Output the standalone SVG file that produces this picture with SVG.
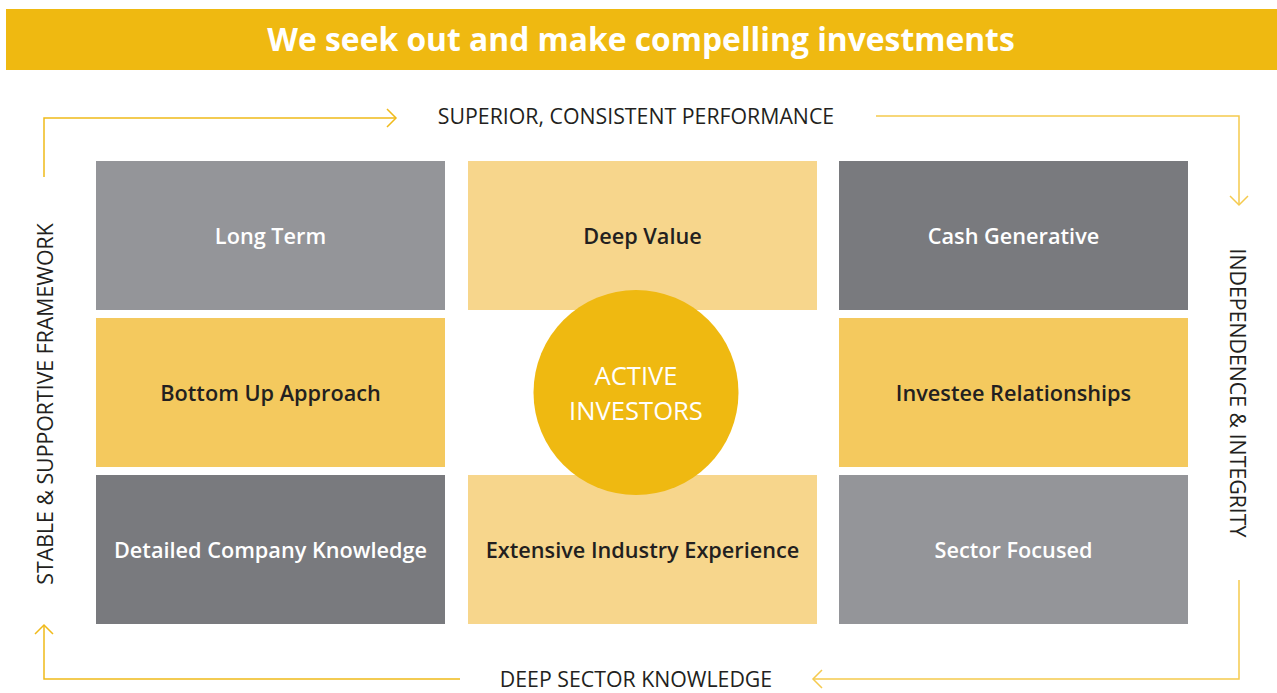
<svg xmlns="http://www.w3.org/2000/svg" width="1277" height="693" viewBox="0 0 1277 693">
<defs>
<marker id="chevA" viewBox="0 0 20 20" refX="18" refY="10" markerWidth="20" markerHeight="20" markerUnits="userSpaceOnUse" orient="auto">
<path d="M9,1 L18,10 L9,19" fill="none" stroke="#F0BA1A" stroke-width="1.5"/>
</marker>
<marker id="chevB" viewBox="0 0 20 20" refX="18" refY="10" markerWidth="20" markerHeight="20" markerUnits="userSpaceOnUse" orient="auto">
<path d="M9,1 L18,10 L9,19" fill="none" stroke="#F5CA4E" stroke-width="1.5"/>
</marker>
</defs>
<style>
.title{font-family:"Open Sans","Liberation Sans",sans-serif;font-weight:700;font-size:31.8px;fill:#fff}
.lbl{font-family:"Open Sans","Liberation Sans",sans-serif;font-weight:600;font-size:21.7px}
.w{fill:#fff}
.d{fill:#231f20}
.outer{font-family:"Open Sans","Liberation Sans",sans-serif;font-weight:400;font-size:21.3px;fill:#231f20}
.circ{font-family:"Open Sans","Liberation Sans",sans-serif;font-weight:500;font-size:25.6px;fill:#fff}
.la{fill:none;stroke:#F0BA1A;stroke-width:1.5}
.lb{fill:none;stroke:#F5CA4E;stroke-width:1.5}
</style>
<rect width="1277" height="693" fill="#fff"/>
<g id="banner">
<rect x="6" y="9" width="1271" height="61" fill="#EFB911"/>
<text class="title" x="641" y="51" text-anchor="middle">We seek out and make compelling investments</text>
</g>
<g id="connectors">
<path class="la" d="M44,177 V118 H396" marker-end="url(#chevA)"/>
<path class="lb" d="M876,116 H1239 V205" marker-end="url(#chevB)"/>
<path class="lb" d="M1239,580 V679 H813" marker-end="url(#chevB)"/>
<path class="la" d="M460,679 H44 V625" marker-end="url(#chevA)"/>
</g>
<g id="label-top"><text class="outer" x="636" y="124" text-anchor="middle">SUPERIOR, CONSISTENT PERFORMANCE</text></g>
<g id="label-bottom"><text class="outer" x="636" y="687" text-anchor="middle">DEEP SECTOR KNOWLEDGE</text></g>
<g id="label-left"><text class="outer" transform="translate(53,404) rotate(-90)" text-anchor="middle">STABLE &amp; SUPPORTIVE FRAMEWORK</text></g>
<g id="label-right"><text class="outer" transform="translate(1230,393) rotate(90)" text-anchor="middle">INDEPENDENCE &amp; INTEGRITY</text></g>
<g id="long-term"><rect x="96" y="161" width="349" height="149" fill="#949599"/><text class="lbl w" x="270.5" y="244" text-anchor="middle">Long Term</text></g>
<g id="deep-value"><rect x="468" y="161" width="349" height="149" fill="#F7D68C"/><text class="lbl d" x="642.5" y="244" text-anchor="middle">Deep Value</text></g>
<g id="cash-generative"><rect x="839" y="161" width="349" height="149" fill="#797A7E"/><text class="lbl w" x="1013.5" y="244" text-anchor="middle">Cash Generative</text></g>
<g id="bottom-up"><rect x="96" y="318" width="349" height="149" fill="#F4C95E"/><text class="lbl d" x="270.5" y="401" text-anchor="middle">Bottom Up Approach</text></g>
<g id="investee"><rect x="839" y="318" width="349" height="149" fill="#F4C95E"/><text class="lbl d" x="1013.5" y="401" text-anchor="middle">Investee Relationships</text></g>
<g id="detailed"><rect x="96" y="475" width="349" height="149" fill="#797A7E"/><text class="lbl w" x="270.5" y="558" text-anchor="middle">Detailed Company Knowledge</text></g>
<g id="extensive"><rect x="468" y="475" width="349" height="149" fill="#F7D68C"/><text class="lbl d" x="642.5" y="558" text-anchor="middle">Extensive Industry Experience</text></g>
<g id="sector"><rect x="839" y="475" width="349" height="149" fill="#949599"/><text class="lbl w" x="1013.5" y="558" text-anchor="middle">Sector Focused</text></g>
<g id="active-investors">
<circle cx="636" cy="392.5" r="102.5" fill="#EFB911"/>
<text class="circ" x="636" y="385" text-anchor="middle">ACTIVE</text>
<text class="circ" x="636" y="420" text-anchor="middle">INVESTORS</text>
</g>
</svg>
